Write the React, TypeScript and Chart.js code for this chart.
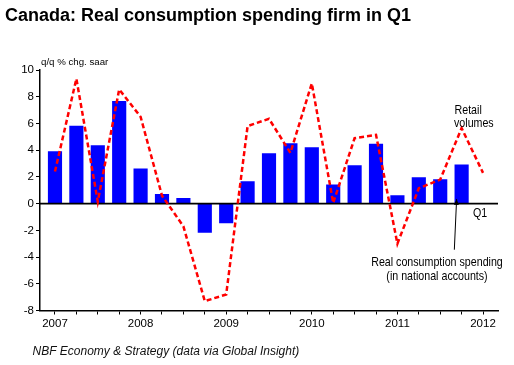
import React, { useEffect, useRef } from "react";
import { Chart, registerables } from "chart.js";

Chart.register(...registerables);

// ---- Data ----
const quarters = [
  "2007Q1", "2007Q2", "2007Q3", "2007Q4",
  "2008Q1", "2008Q2", "2008Q3", "2008Q4",
  "2009Q1", "2009Q2", "2009Q3", "2009Q4",
  "2010Q1", "2010Q2", "2010Q3", "2010Q4",
  "2011Q1", "2011Q2", "2011Q3", "2011Q4",
  "2012Q1",
];
const yearLabels = ["2007", "2008", "2009", "2010", "2011", "2012"];
// Real consumption spending (national accounts), q/q % chg. saar
const consumption = [
  3.9, 5.8, 4.35, 7.65,
  2.6, 0.7, 0.4, -2.15,
  -1.45, 1.65, 3.75, 4.5,
  4.2, 1.4, 2.85, 4.45,
  0.6, 1.95, 1.8, 2.9,
];
// Retail volumes, q/q % chg. saar
const retail = [
  2.4, 9.35, 0.15, 8.55,
  6.5, 0.6, -1.7, -7.3,
  -6.8, 5.8, 6.35, 3.8,
  9.0, 0.05, 4.9, 5.15,
  -3.0, 1.15, 1.8, 5.65,
  2.3,
];
const yMin = -8;
const yMax = 10;
const yStep = 2;

const titleText = "Canada: Real consumption spending firm in Q1";
const unitText = "q/q % chg. saar";
const footerText = "NBF Economy & Strategy (data via Global Insight)";

const SANS = "'Liberation Sans', Arial, Helvetica, sans-serif";

const W = 514;
const H = 365;

function narrowText(ctx: CanvasRenderingContext2D, text: string, x: number, y: number, align: CanvasTextAlign) {
  ctx.save();
  ctx.translate(x, y);
  ctx.scale(0.82, 1);
  ctx.textAlign = align;
  ctx.fillText(text, 0, 0);
  ctx.restore();
}

const decorPlugin = {
  id: "decor",
  afterDatasetDraw(chart: any, args: any) {
    if (args.index !== 0) return;
    const { ctx, chartArea, scales } = chart;
    const y0 = scales.y.getPixelForValue(0);
    ctx.save();
    ctx.strokeStyle = "#000";
    ctx.lineWidth = 1.6;
    ctx.beginPath();
    ctx.moveTo(chartArea.left, y0);
    ctx.lineTo(chartArea.right, y0);
    ctx.stroke();
    ctx.restore();
  },
  afterDraw(chart: any) {
    const { ctx, scales } = chart;
    const xs = scales.x;
    const ys = scales.y;
    ctx.save();
    ctx.fillStyle = "#000";
    ctx.textBaseline = "alphabetic";
    ctx.textAlign = "left";

    ctx.font = `bold 18px ${SANS}`;
    ctx.fillText(titleText, 5, 20.5);

    ctx.font = `9.7px ${SANS}`;
    ctx.fillText(unitText, 41, 65);

    ctx.font = `13px ${SANS}`;
    narrowText(ctx, "Retail", 454.5, 114, "left");
    narrowText(ctx, "volumes", 454, 127, "left");
    narrowText(ctx, "Q1", 473, 217, "left");
    narrowText(ctx, "Real consumption spending", 437, 266, "center");
    narrowText(ctx, "(in national accounts)", 437, 279.5, "center");

    // arrow pointing at the last consumption bar
    const hx = xs.getPixelForValue(19) - 5;
    const hy = ys.getPixelForValue(0.35);
    const tx = xs.getPixelForValue(18.66);
    const ty = ys.getPixelForValue(-3.45);
    ctx.strokeStyle = "#000";
    ctx.lineWidth = 1;
    ctx.beginPath();
    ctx.moveTo(tx, ty);
    ctx.lineTo(hx, hy);
    ctx.stroke();
    const ang = Math.atan2(hy - ty, hx - tx);
    const len = 6;
    const wid = 2.5;
    ctx.beginPath();
    ctx.moveTo(hx, hy);
    ctx.lineTo(hx - len * Math.cos(ang) + wid * Math.sin(ang), hy - len * Math.sin(ang) - wid * Math.cos(ang));
    ctx.lineTo(hx - len * Math.cos(ang) - wid * Math.sin(ang), hy - len * Math.sin(ang) + wid * Math.cos(ang));
    ctx.closePath();
    ctx.fill();

    ctx.textAlign = "left";
    ctx.font = `italic 12px ${SANS}`;
    ctx.fillStyle = "#111";
    ctx.fillText(footerText, 32.5, 355);
    ctx.restore();
  },
};

export default function App() {
  const canvasRef = useRef<HTMLCanvasElement | null>(null);

  useEffect(() => {
    const canvas = canvasRef.current;
    if (!canvas) return;
    const chart = new Chart(canvas, {
      type: "bar",
      data: {
        datasets: [
          {
            type: "bar",
            label: "Real consumption spending",
            data: consumption.map((v, i) => ({ x: i, y: v })),
            backgroundColor: "#0000FF",
            borderWidth: 0,
            barThickness: 13.5,
            order: 2,
          } as any,
          {
            type: "line",
            label: "Retail volumes",
            data: retail.map((v, i) => ({ x: i, y: v })),
            borderColor: "#FF0000",
            borderWidth: 2.5,
            borderDash: [5, 3],
            pointRadius: 0,
            tension: 0,
            fill: false,
            order: 1,
          } as any,
        ],
      },
      options: {
        responsive: false,
        animation: false,
        devicePixelRatio: 1,
        layout: { padding: { top: 70, right: 16, left: 0, bottom: 0 } },
        plugins: {
          legend: { display: false },
          title: { display: false },
          tooltip: { enabled: false },
        },
        scales: {
          x: {
            type: "linear",
            offset: false,
            min: -0.7,
            max: 20.7,
            afterBuildTicks: (scale: any) => {
              scale.ticks = quarters.map((_, i) => ({ value: i }));
            },
            afterFit: (scale: any) => {
              scale.height = 54.5;
            },
            ticks: {
              autoSkip: false,
              maxRotation: 0,
              minRotation: 0,
              color: "#000",
              padding: 2,
              font: { family: SANS, size: 11.5 },
              callback: (v: any) => {
                const i = Number(v);
                return i % 4 === 0 ? yearLabels[i / 4] : "";
              },
            },
            grid: {
              offset: false,
              drawOnChartArea: false,
              drawTicks: true,
              tickLength: 4,
              tickColor: "#000",
              tickWidth: 1,
            },
            border: { display: true, color: "#000", width: 1.5 },
          },
          y: {
            type: "linear",
            min: yMin,
            max: yMax,
            afterFit: (scale: any) => {
              scale.width = 40;
            },
            ticks: {
              stepSize: yStep,
              color: "#000",
              padding: 2,
              font: { family: SANS, size: 11.5 },
            },
            grid: {
              drawOnChartArea: false,
              drawTicks: true,
              tickLength: 4,
              tickColor: "#000",
              tickWidth: 1,
            },
            border: { display: true, color: "#000", width: 1.5 },
          },
        },
      },
      plugins: [decorPlugin],
    } as any);
    return () => chart.destroy();
  }, []);

  return (
    <div style={{ position: "absolute", left: 0, top: 0, width: W, height: H, background: "#fff" }}>
      <canvas ref={canvasRef} width={W} height={H} style={{ display: "block" }} />
    </div>
  );
}
